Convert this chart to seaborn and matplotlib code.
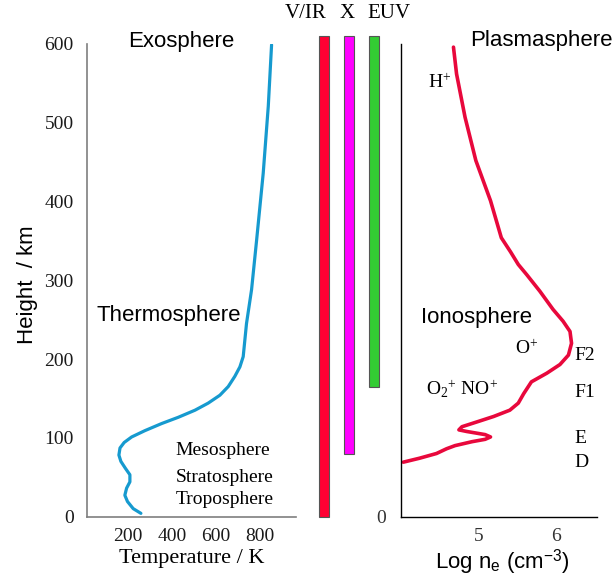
import matplotlib
matplotlib.use("Agg")
import matplotlib.pyplot as plt
import seaborn as sns
import pandas as pd

# Temperature profile (K vs km)
temp_k = [259, 224, 198, 186, 194, 209, 209, 189, 168, 159, 164, 183, 217, 277, 353, 429,
          505, 565, 618, 656, 686, 709, 724, 739, 762, 785, 815, 838, 853]
temp_h = [4, 10, 19, 27, 36, 44, 53, 61, 70, 78, 87, 94, 101, 109, 118, 126,
          135, 144, 154, 165, 178, 190, 203, 245, 288, 351, 436, 521, 599]

# Electron density profile (log ne vs km)
dens_log = [4.02, 4.23, 4.45, 4.58, 4.69, 4.91, 5.08, 5.15, 5.08, 4.84, 4.74, 4.78, 4.97,
            5.19, 5.40, 5.51, 5.58, 5.68, 5.88, 6.05, 6.16, 6.20, 6.18, 6.09, 5.96, 5.79,
            5.62, 5.51, 5.41, 5.29, 5.15, 4.96, 4.82, 4.71, 4.67]
dens_h = [69, 74, 80, 86, 90, 95, 98, 101, 104, 108, 110, 114, 120,
          127, 135, 144, 156, 171, 182, 193, 205, 220, 235, 248, 263, 286,
          307, 320, 336, 354, 401, 452, 507, 562, 596]

# Radiation bands absorbed (km)
bands = ['V/IR', 'X', 'EUV']
band_bottom = [0, 79, 165]
band_top = [610, 610, 610]
band_colors = ['#FF0033', '#FF00FF', '#33CC33']

heights = [0, 100, 200, 300, 400, 500, 600]
temp_ticks = [200, 400, 600, 800]
dens_ticks = [5, 6]

sns.set_style("white")
plt.rcParams['text.color'] = 'black'
plt.rcParams['axes.labelcolor'] = 'black'
plt.rcParams['lines.solid_joinstyle'] = 'round'
plt.rcParams['mathtext.fontset'] = 'custom'
plt.rcParams['mathtext.rm'] = 'Liberation Serif'
plt.rcParams['mathtext.it'] = 'Liberation Serif:italic'
plt.rcParams['mathtext.sf'] = 'Liberation Sans'
serif = 'Liberation Serif'
sans = 'Liberation Sans'

W, H = 615, 577
fig = plt.figure(figsize=(W / 100, H / 100), dpi=100)
bottom = (H - 516.5) / H
height = 472.5 / H
ax_t = fig.add_axes([87 / W, bottom, 209 / W, height])
ax_m = fig.add_axes([299 / W, bottom, 100 / W, height])
ax_n = fig.add_axes([401 / W, bottom, 196 / W, height])

# ---- temperature panel
grey = '#7f7f7f'
sns.lineplot(x=temp_k, y=temp_h, sort=False, estimator=None, ax=ax_t,
             color='#169ACF', linewidth=2.3)
ax_t.set_xlim(14, 964)
ax_t.set_ylim(0, 600)
ax_t.set_xticks(temp_ticks)
ax_t.set_yticks(heights)
for s in ['top', 'right']:
    ax_t.spines[s].set_visible(False)
for s in ['left', 'bottom']:
    ax_t.spines[s].set_color(grey)
    ax_t.spines[s].set_linewidth(1.2)
ax_t.tick_params(axis='y', direction='inout', length=9, width=1.1, color=grey, pad=5)
ax_t.tick_params(axis='x', direction='in', length=5, width=1.1, color=grey, pad=8)
for lab in ax_t.get_xticklabels() + ax_t.get_yticklabels():
    lab.set_fontfamily(serif)
    lab.set_fontsize(14)
    lab.set_color('#1a1a1a')
ax_t.set_xlabel('Temperature / K', fontfamily=serif, fontsize=16, va='center')
ax_t.xaxis.set_label_coords(0.502, -0.088)
ax_t.set_ylabel('Height  / km', fontfamily=sans, fontsize=16, va='center')
ax_t.yaxis.set_label_coords(-0.287, 0.49)

ax_t.text(441, 603, 'Exosphere', fontfamily=sans, fontsize=16, ha='center', va='center')
ax_t.text(384, 255, 'Thermosphere', fontfamily=sans, fontsize=16, ha='center', va='center')
ax_t.text(418, 84, 'Mesosphere', fontfamily=serif, fontsize=14, ha='left', va='center')
ax_t.text(418, 50, 'Stratosphere', fontfamily=serif, fontsize=14, ha='left', va='center')
ax_t.text(418, 22, 'Troposphere', fontfamily=serif, fontsize=14, ha='left', va='center')

# ---- radiation bands
band_df = pd.DataFrame({'band': bands, 'bottom': band_bottom, 'top': band_top})
ax_m.bar(range(len(bands)), band_df['top'] - band_df['bottom'], bottom=band_df['bottom'],
         width=0.42, color=band_colors, edgecolor='#555555', linewidth=0.8, clip_on=False)
ax_m.set_xlim(-1, 3)
ax_m.set_ylim(0, 600)
ax_m.axis('off')
for name, xc in zip(bands, [306, 347, 389]):
    fig.text(xc / W, 1 - 14 / H, name, fontfamily=serif, fontsize=15, ha='center', va='center')

# ---- electron density panel
sns.lineplot(x=dens_log, y=dens_h, sort=False, estimator=None, ax=ax_n,
             color='#E8083C', linewidth=2.6)
ax_n.set_xlim(3.99, 6.53)
ax_n.set_ylim(0, 600)
ax_n.set_xticks(dens_ticks)
ax_n.set_yticks(heights)
ax_n.set_yticklabels(['0'] + [''] * (len(heights) - 1))
for s in ['top', 'right']:
    ax_n.spines[s].set_visible(False)
for s in ['left', 'bottom']:
    ax_n.spines[s].set_color('black')
    ax_n.spines[s].set_linewidth(1.0)
ax_n.tick_params(axis='y', direction='inout', length=13, width=1.0, color='black', pad=4)
ax_n.tick_params(axis='x', direction='in', length=5, width=1.0, color=grey, pad=8)
for lab in ax_n.get_xticklabels() + ax_n.get_yticklabels():
    lab.set_fontfamily(serif)
    lab.set_fontsize(14)
    lab.set_color('#333333')
ax_n.set_xlabel(r'Log n$_\mathsf{e}$ (cm$^\mathsf{-3}$)', fontfamily=sans, fontsize=16, va='center')
ax_n.xaxis.set_label_coords(0.515, -0.097)
ax_n.set_ylabel('')

ax_n.text(5.81, 604, 'Plasmasphere', fontfamily=sans, fontsize=16, ha='center', va='center')
ax_n.text(4.97, 253, 'Ionosphere', fontfamily=sans, fontsize=16, ha='center', va='center')
ax_n.text(4.34, 551, r'H$^\mathrm{+}$', fontfamily=serif, fontsize=14, ha='left', va='center')
ax_n.text(5.47, 213, r'O$^\mathrm{+}$', fontfamily=serif, fontsize=14, ha='left', va='center')
ax_n.text(4.32, 161, r'O$_\mathrm{2}{}^\mathrm{+}$ NO$^\mathrm{+}$', fontfamily=serif, fontsize=14,
          ha='left', va='center')
for lab, yy in zip(['F2', 'F1', 'E', 'D'], [204, 157, 99, 68]):
    ax_n.text(6.24, yy, lab, fontfamily=serif, fontsize=14, ha='left', va='center')

fig.savefig('out.png', dpi=100)
